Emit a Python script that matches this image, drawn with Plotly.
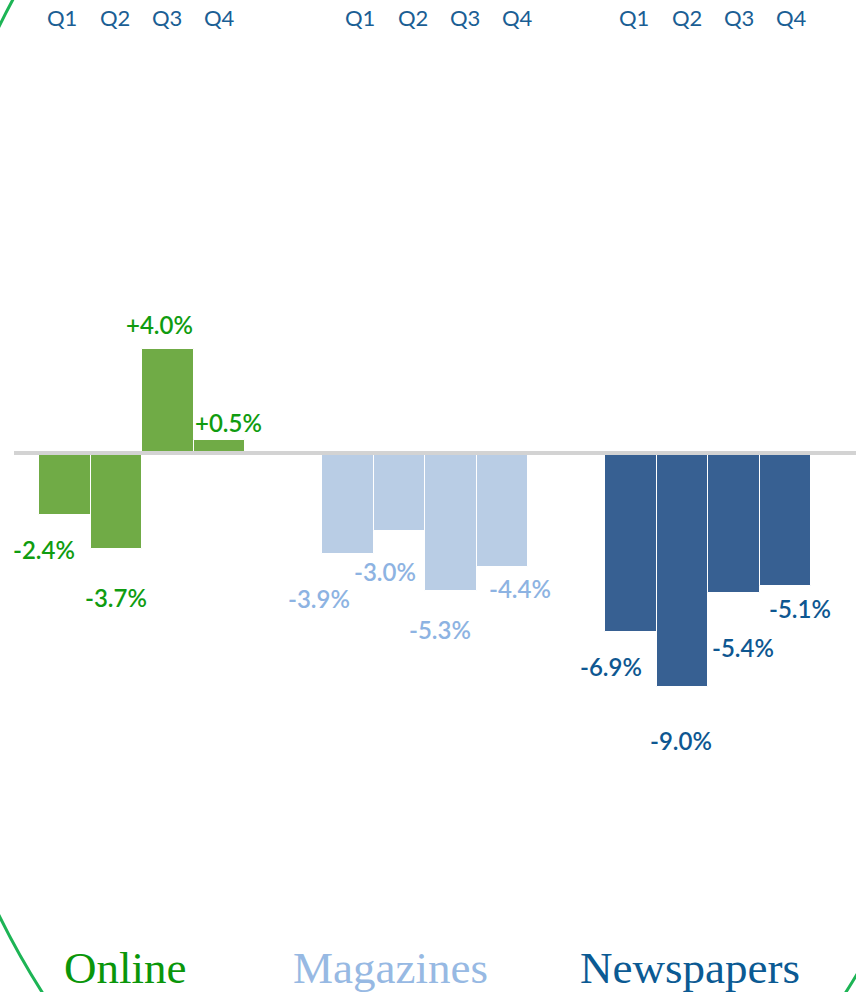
import plotly.graph_objects as go

# ---- data ----
groups = ["Online", "Magazines", "Newspapers"]
quarters = ["Q1", "Q2", "Q3", "Q4"]
online = [-2.4, -3.7, 4.0, 0.5]
magazines = [-3.9, -3.0, -5.3, -4.4]
newspapers = [-6.9, -9.0, -5.4, -5.1]
series = [online, magazines, newspapers]

# ---- styles ----
bar_colors = ["#70ab46", "#b9cde5", "#376092"]
label_colors = ["#109c10", "#8db3e2", "#0e5791"]
title_colors = ["#0a960a", "#97b9e3", "#0b5a93"]
q_color = "#1a5e94"

W, H = 856, 992
ZERO_PX = 453          # pixel row of the zero line
PX_PER = 26.0          # pixels per percentage point
BAR_LEFT0, GROUP_PITCH, BAR_PITCH, BAR_W = 39, 283, 51.5, 51.5

# label offsets relative to bar end (pixels; dx right, dy down)
label_dx = [[-21, 0, -8, 9], [-29, -14, -11, 18], [-20, -1, 9, 15]]
label_dy = [[34, 48, -25, -18], [44, 40, 39, 21], [34, 53, 54, 23]]
q_start = [62, 360, 634]
q_pitch = 52.5
title_x = [125, 390, 690]


def row(p):
    """pixel row -> y data value"""
    return (ZERO_PX - p) / PX_PER


fig = go.Figure()
annotations = []
for g, (name, vals) in enumerate(zip(groups, series)):
    xs = [BAR_LEFT0 + g * GROUP_PITCH + q * BAR_PITCH + BAR_W / 2 for q in range(4)]
    fig.add_trace(go.Bar(
        x=xs, y=vals, width=BAR_W, name=name,
        marker=dict(color=bar_colors[g], line=dict(color="#ffffff", width=1)),
        hovertext=[f"{name} {q}: {v:+.1f}%" for q, v in zip(quarters, vals)],
        hoverinfo="text", showlegend=False,
    ))
    for q, v in enumerate(vals):
        annotations.append(dict(
            x=xs[q], y=v, xref="x", yref="y",
            text=f"{v:+.1f}%" if v > 0 else f"{v:.1f}%",
            showarrow=False, xanchor="center", yanchor="middle",
            xshift=label_dx[g][q], yshift=-label_dy[g][q],
            font=dict(family="Lato", size=24, color=label_colors[g], weight=600),
        ))
        annotations.append(dict(
            x=q_start[g] + q * q_pitch, y=row(17), xref="x", yref="y",
            text=quarters[q], showarrow=False, xanchor="center", yanchor="middle",
            font=dict(family="Lato", size=22, color=q_color),
        ))
    annotations.append(dict(
        x=title_x[g], y=row(968), xref="x", yref="y",
        text=name, showarrow=False, xanchor="center", yanchor="middle",
        font=dict(family="Liberation Serif", size=45, color=title_colors[g]),
    ))

shapes = [
    # decorative green ellipse
    dict(type="circle", xref="paper", yref="paper",
         x0=-99 / W, x1=987 / W, y0=1 - 1246 / H, y1=1 + 304 / H,
         line=dict(color="#1db455", width=3), layer="below"),
    # zero line
    dict(type="line", xref="x", yref="y", x0=14, x1=W, y0=0, y1=0,
         line=dict(color="#d3d3d3", width=4), layer="above"),
]

fig.update_layout(
    width=W, height=H,
    margin=dict(l=0, r=0, t=0, b=0),
    paper_bgcolor="white", plot_bgcolor="white",
    xaxis=dict(range=[0, W], visible=False, fixedrange=True),
    yaxis=dict(range=[row(H), row(0)], visible=False, fixedrange=True),
    bargap=0, annotations=annotations, shapes=shapes,
)

fig.write_html(
    "out.html",
    config={"displayModeBar": False},
    post_script="document.body.style.margin='0';document.body.style.overflow='hidden';",
)
